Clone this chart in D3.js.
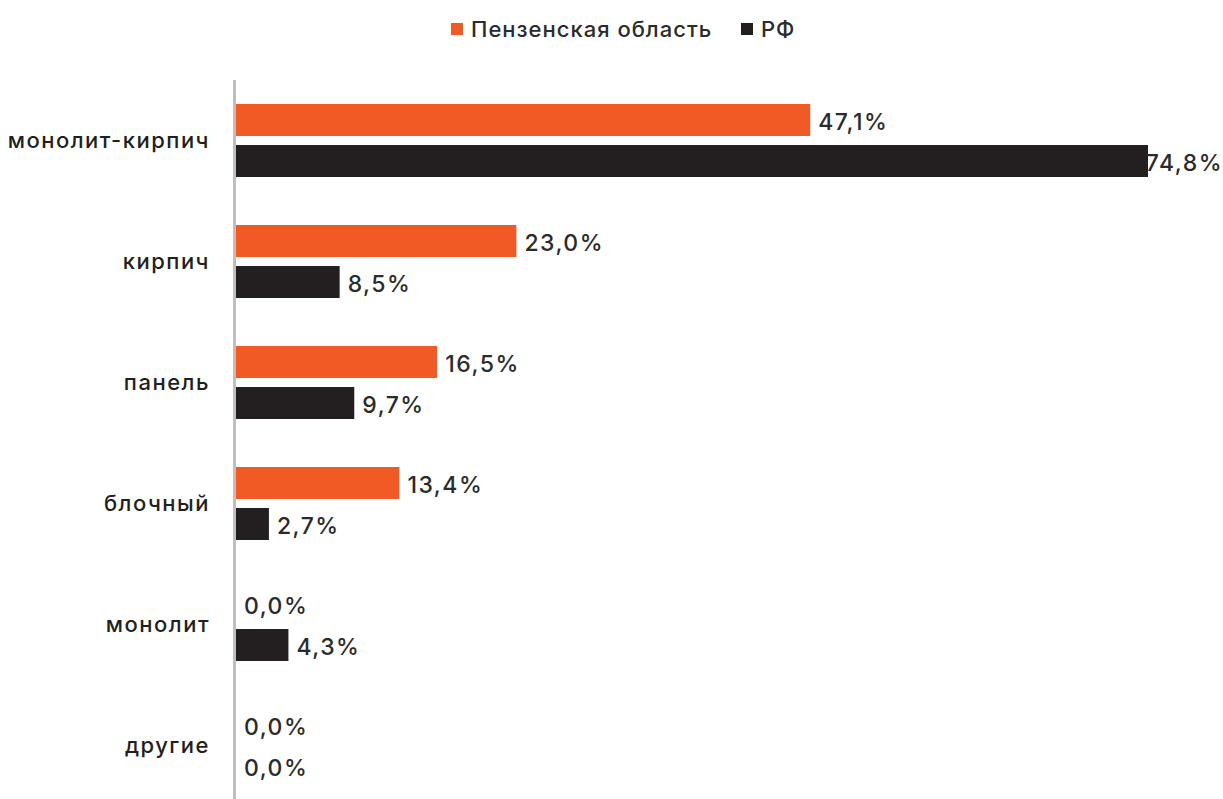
<!DOCTYPE html>
<html>
<head>
<meta charset="utf-8">
<script src="https://cdn.jsdelivr.net/npm/d3@7"></script>
<style>
  html, body { margin: 0; padding: 0; background: #ffffff; }
  svg { display: block; }
  text { font-family: "Inter", "Noto Sans", sans-serif; font-weight: 500; }
</style>
</head>
<body>
<svg id="chart" width="1223" height="799"></svg>
<script>
// Share of housing construction by wall material, %
const categories = ["монолит-кирпич", "кирпич", "панель", "блочный", "монолит", "другие"];
const seriesNames = ["Пензенская область", "РФ"];
const penzaValues = [47.1, 23.0, 16.5, 13.4, 0.0, 0.0];
const rfValues = [74.8, 8.5, 9.7, 2.7, 4.3, 0.0];
const seriesColors = ["#f15a24", "#231f20"];

const W = 1223, H = 799;
const svg = d3.select("#chart");

const x0 = 236;
const x = d3.scaleLinear().domain([0, 74.8]).range([x0, 1148]);
const y = d3.scaleBand().domain(categories).range([80, 806]);
const inner = d3.scaleBand().domain(seriesNames).range([24, 97]).paddingInner(0.22);

const rows = categories.map((c, i) => ({
  cat: c,
  vals: [
    { s: seriesNames[0], v: penzaValues[i], color: seriesColors[0] },
    { s: seriesNames[1], v: rfValues[i], color: seriesColors[1] }
  ]
}));

const g = svg.selectAll("g.cat").data(rows).join("g")
  .attr("class", "cat")
  .attr("transform", d => `translate(0,${y(d.cat)})`);

g.selectAll("rect").data(d => d.vals).join("rect")
  .attr("x", x0)
  .attr("y", d => inner(d.s))
  .attr("height", inner.bandwidth())
  .attr("width", d => x(d.v) - x0)
  .attr("fill", d => d.color);

const fmt = v => v.toFixed(1).replace(".", ",") + "%";

g.selectAll("text.val").data(d => d.vals).join("text")
  .attr("class", "val")
  .attr("x", d => x(d.v) + 8)
  .attr("y", d => inner(d.s) + inner.bandwidth() / 2 + 2)
  .attr("dy", "0.36em")
  .attr("font-size", 23)
  .attr("letter-spacing", 1.5)
  .attr("fill", "#2b2b2b")
  .text(d => fmt(d.v))
  .each(function () {
    // keep labels inside the canvas
    const bb = this.getBBox();
    if (bb.x + bb.width > W) d3.select(this).attr("x", W - bb.width);
  });

// Category labels
svg.append("g").selectAll("text").data(categories).join("text")
  .attr("x", 210)
  .attr("y", d => y(d) + y.bandwidth() / 2)
  .attr("dy", "0.36em")
  .attr("text-anchor", "end")
  .attr("font-size", 22)
  .attr("letter-spacing", 1.5)
  .attr("fill", "#231f20")
  .text(d => d);

// Vertical axis line
svg.append("line")
  .attr("x1", 234.5).attr("x2", 234.5)
  .attr("y1", 80).attr("y2", H)
  .attr("stroke", "#bfbfbf")
  .attr("stroke-width", 3);

// Legend
const legend = svg.append("g").attr("transform", "translate(0,29)");
const legendX = [451, 741];
seriesNames.forEach((s, i) => {
  legend.append("rect")
    .attr("x", legendX[i]).attr("y", -6)
    .attr("width", 12).attr("height", 12)
    .attr("fill", seriesColors[i]);
  legend.append("text")
    .attr("x", legendX[i] + 20).attr("y", 0)
    .attr("dy", "0.36em")
    .attr("font-size", 22)
    .attr("letter-spacing", 1)
    .attr("fill", "#2b2b2b")
    .text(s);
});
</script>
</body>
</html>
